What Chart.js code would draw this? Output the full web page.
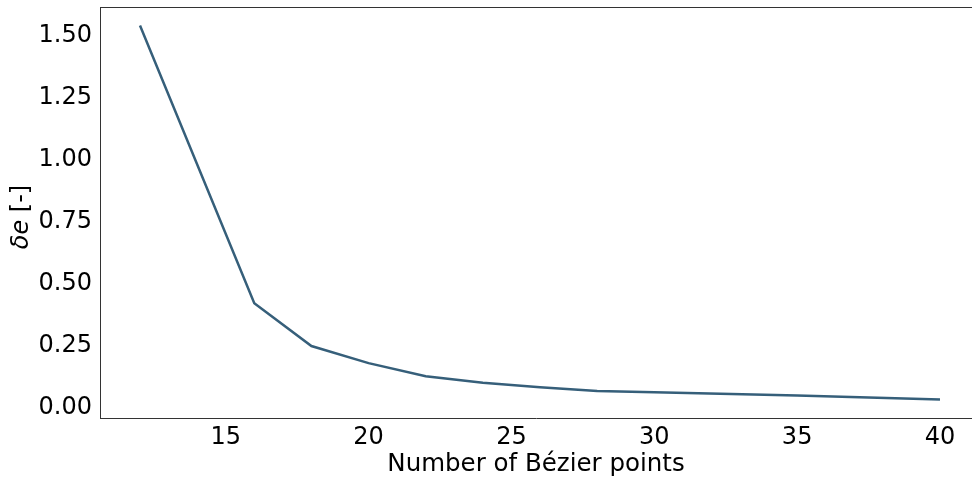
<!DOCTYPE html>
<html>
<head>
<meta charset="utf-8">
<script src="https://cdn.jsdelivr.net/npm/chart.js@4"></script>
<style>
  html, body { margin: 0; padding: 0; background: #fff; }
  #wrap { width: 972px; height: 479px; }
</style>
</head>
<body>
<div id="wrap"><canvas id="myChart" width="972" height="479"></canvas></div>
<script>
// number of bezier points vs error
var bezierPoints = [12, 16, 18, 20, 22, 24, 26, 28, 30, 35, 40];
var deltaE = [1.53, 0.41, 0.237, 0.168, 0.115, 0.089, 0.071, 0.056, 0.051, 0.037, 0.021];
var xTicks = [15, 20, 25, 30, 35, 40];
var yTicks = [0.00, 0.25, 0.50, 0.75, 1.00, 1.25, 1.50];

var FONT = "'DejaVu Sans', sans-serif";

// frame + y-axis label with italic math part
var framePlugin = {
    id: 'frame',
    afterDraw: function(chart) {
        var ctx = chart.ctx;
        var a = chart.chartArea;
        ctx.save();
        ctx.strokeStyle = '#333';
        ctx.lineWidth = 1;
        ctx.beginPath();
        ctx.moveTo(a.left, a.top + 0.5);
        ctx.lineTo(a.right, a.top + 0.5);
        ctx.stroke();
        ctx.restore();

        // y title
        ctx.save();
        ctx.translate(22, 217);
        ctx.rotate(-Math.PI / 2);
        ctx.fillStyle = '#000';
        ctx.textBaseline = 'middle';
        ctx.font = 'italic 24px ' + FONT;
        var p1 = '\u03b4e';
        var p2 = ' [-]';
        var w1 = ctx.measureText(p1).width;
        ctx.font = '24px ' + FONT;
        var w2 = ctx.measureText(p2).width;
        var x0 = -(w1 + w2) / 2;
        ctx.font = 'italic 24px ' + FONT;
        ctx.textAlign = 'left';
        ctx.fillText(p1, x0, 0);
        ctx.font = '24px ' + FONT;
        ctx.fillText(p2, x0 + w1, 0);
        ctx.restore();
    }
};

var ctx = document.getElementById('myChart').getContext('2d');
var chart = new Chart(ctx, {
    type: 'line',
    data: {
        datasets: [{
            label: 'delta e',
            data: bezierPoints.map(function(x, i) { return {x: x, y: deltaE[i]}; }),
            borderColor: '#365f7a',
            borderWidth: 2.5,
            pointRadius: 0,
            fill: false,
            tension: 0
        }]
    },
    options: {
        responsive: false,
        animation: false,
        layout: { padding: { top: 7, right: 0, left: 0, bottom: 0 } },
        plugins: {
            legend: { display: false },
            tooltip: { enabled: false }
        },
        scales: {
            x: {
                type: 'linear',
                min: 10.6,
                max: 41.12,
                afterBuildTicks: function(scale) {
                    scale.ticks = xTicks.map(function(v) { return {value: v}; });
                },
                afterFit: function(scale) {
                    scale.height = 61;
                    scale.paddingLeft = 0;
                    scale.paddingRight = 0;
                },
                grid: { display: false, drawTicks: true, tickLength: 4, tickColor: '#333' },
                border: { display: true, color: '#333', width: 1 },
                ticks: {
                    color: '#000',
                    padding: 1,
                    maxRotation: 0,
                    font: { family: FONT, size: 24 }
                },
                title: {
                    display: true,
                    text: 'Number of B\u00e9zier points',
                    color: '#000',
                    padding: { top: 0, bottom: 0 },
                    font: { family: FONT, size: 24.5 }
                }
            },
            y: {
                type: 'linear',
                min: -0.0534,
                max: 1.605,
                afterBuildTicks: function(scale) {
                    scale.ticks = yTicks.map(function(v) { return {value: v}; });
                },
                afterFit: function(scale) {
                    scale.width = 100;
                    scale.paddingTop = 0;
                    scale.paddingBottom = 0;
                },
                grid: { display: false, drawTicks: true, tickLength: 4, tickColor: '#333' },
                border: { display: true, color: '#333', width: 1 },
                ticks: {
                    color: '#000',
                    padding: 4,
                    labelOffset: 3,
                    font: { family: FONT, size: 24 },
                    callback: function(v) { return Number(v).toFixed(2); }
                }
            }
        }
    },
    plugins: [framePlugin]
});
</script>
</body>
</html>
